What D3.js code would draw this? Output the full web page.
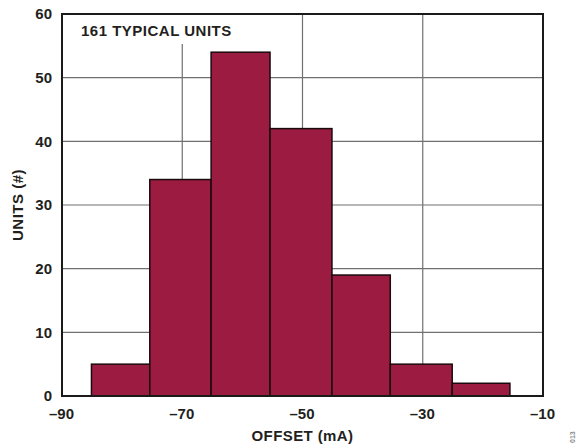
<!DOCTYPE html>
<html>
<head>
<meta charset="utf-8">
<script src="https://cdn.jsdelivr.net/npm/d3@7/dist/d3.min.js"></script>
<style>
html,body{margin:0;padding:0;background:#fff;}
svg{display:block;}
text{font-family:Arial,"Liberation Sans",Helvetica,sans-serif;font-weight:bold;fill:#231f20;}
</style>
</head>
<body>
<script>
// Data
const binEdges = [-85.1, -75.4, -65.2, -55.4, -45.1, -35.4, -25.1, -15.5];
const counts = [5, 34, 54, 42, 19, 5, 2];
const xTicks = [-90, -70, -50, -30, -10];
const yTicks = [0, 10, 20, 30, 40, 50, 60];
const xTitle = "OFFSET (mA)";
const yTitle = "UNITS (#)";
const note = "161 TYPICAL UNITS";
const figId = "013";

const W = 578, H = 446;
const m = {left: 62, right: 35, top: 14, bottom: 50};
const iw = W - m.left - m.right, ih = H - m.top - m.bottom;

const svg = d3.select("body").append("svg").attr("width", W).attr("height", H);
const g = svg.append("g").attr("transform", `translate(${m.left},${m.top})`);

const x = d3.scaleLinear().domain([-90, -10]).range([0, iw]);
const y = d3.scaleLinear().domain([0, 60]).range([ih, 0]);

// gridlines
g.append("g").selectAll("line.h").data(yTicks.filter(d => d > 0 && d < 60)).join("line")
  .attr("x1", 0).attr("x2", iw).attr("y1", d => y(d)).attr("y2", d => y(d))
  .attr("stroke", "#707070").attr("stroke-width", 1.2);
g.append("g").selectAll("line.v").data(xTicks.filter(d => d > -90 && d < -10)).join("line")
  .attr("x1", d => x(d)).attr("x2", d => x(d)).attr("y1", 0).attr("y2", ih)
  .attr("stroke", "#707070").attr("stroke-width", 1.2);

// label background + label
g.append("rect").attr("x", 2).attr("y", 1).attr("width", 176).attr("height", 29).attr("fill", "#fff");
g.append("text").attr("x", 19).attr("y", 22).attr("font-size", 15).attr("letter-spacing", 0.5).text(note);

// bars
g.append("g").selectAll("rect").data(counts).join("rect")
  .attr("x", (d, i) => x(binEdges[i]))
  .attr("width", (d, i) => x(binEdges[i + 1]) - x(binEdges[i]))
  .attr("y", d => y(d))
  .attr("height", d => ih - y(d))
  .attr("fill", "#9c1c41").attr("stroke", "#1a0a0e").attr("stroke-width", 1.5);

// frame
g.append("rect").attr("x", 0).attr("y", 0).attr("width", iw).attr("height", ih)
  .attr("fill", "none").attr("stroke", "#1a1a1a").attr("stroke-width", 2);

// axes (labels only)
const xAxis = d3.axisBottom(x).tickValues(xTicks).tickSize(0).tickPadding(12)
  .tickFormat(d => d < 0 ? "\u2013" + Math.abs(d) : d);
const xa = g.append("g").attr("transform", `translate(0,${ih})`).call(xAxis);
xa.select(".domain").remove();
xa.selectAll("text").attr("font-size", 15).attr("font-family", "Arial, 'Liberation Sans', sans-serif").attr("font-weight", "bold").attr("fill", "#231f20").attr("dx", -1);

const yAxis = d3.axisLeft(y).tickValues(yTicks).tickSize(0).tickPadding(10);
const ya = g.append("g").call(yAxis);
ya.select(".domain").remove();
ya.selectAll("text").attr("font-size", 15).attr("font-family", "Arial, 'Liberation Sans', sans-serif").attr("font-weight", "bold").attr("fill", "#231f20");

// titles
svg.append("text").attr("x", m.left + iw / 2).attr("y", 441).attr("text-anchor", "middle")
  .attr("font-size", 15).attr("letter-spacing", 0.4).text(xTitle);
svg.append("text").attr("transform", `translate(23,${m.top + ih / 2}) rotate(-90)`).attr("text-anchor", "middle")
  .attr("font-size", 15).attr("letter-spacing", 0.5).text(yTitle);

// figure id
svg.append("text").attr("transform", "translate(575,443) rotate(-90)").attr("text-anchor", "start")
  .attr("font-size", 7).attr("font-weight", "normal").style("fill", "#8a8a8a").text(figId);
</script>
</body>
</html>
